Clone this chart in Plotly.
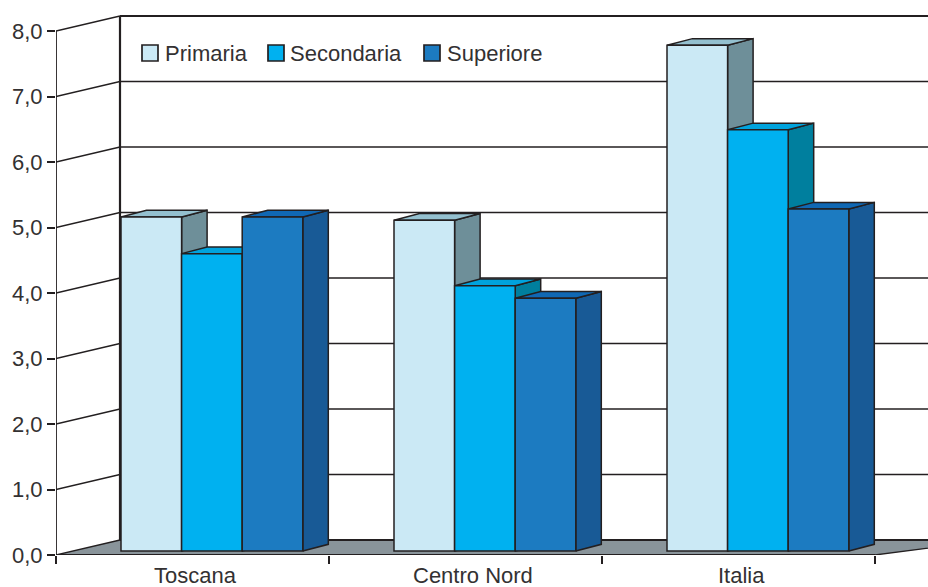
import plotly.graph_objects as go

# Chart data
categories = ["Toscana", "Centro Nord", "Italia"]
series_names = ["Primaria", "Secondaria", "Superiore"]
primaria = [5.1, 5.05, 7.72]
secondaria = [4.54, 4.05, 6.43]
superiore = [5.1, 3.86, 5.22]
y_ticks = [0, 1, 2, 3, 4, 5, 6, 7, 8]

# Face colours per series: front, top, side
front_colors = ["#cbe9f5", "#00b1f0", "#1c7bc1"]
top_colors = ["#94c0cf", "#00a3dd", "#1068b4"]
side_colors = ["#6e8f99", "#007f9e", "#185a96"]
INK = "#231f20"
TEXT = "#333132"
FLOOR = "#89949a"
FONT = "Liberation Sans"
FONT_SIZE = 22

# Pixel scale of the axes
W, H = 928, 587
LEFT, BOTTOM = 56, 32
PX_X = 273.0   # pixels per category
PX_Y = 65.5    # pixels per unit
ux = lambda px: px / PX_X
uy = lambda px: px / PX_Y

x_max = ux(W - LEFT)
y_max = uy(H - BOTTOM)

# Oblique projection of the wall and of the bars
wall_dx, wall_dy = ux(64), uy(15)
bar_dx, bar_dy = ux(25.5), uy(6.7)
bar_base = uy(4)
bar_start = ux(65)
bar_width = ux(60.6)

fig = go.Figure()


def add_line(xs, ys, width=1.5, color=INK):
    fig.add_trace(go.Scatter(x=xs, y=ys, mode="lines", showlegend=False, hoverinfo="skip", cliponaxis=False,
                             line=dict(color=color, width=width)))


def add_face(xs, ys, fill):
    fig.add_trace(go.Scatter(x=xs + xs[:1], y=ys + ys[:1], mode="lines", fill="toself", fillcolor=fill,
                             showlegend=False, hoverinfo="skip",
                             line=dict(color=INK, width=1.5)))


# Floor of the box
fig.add_trace(go.Scatter(x=[0, wall_dx, x_max + wall_dx, 3, 0], y=[0, wall_dy, wall_dy, 0, 0],
                         mode="lines", fill="toself", fillcolor=FLOOR, showlegend=False, hoverinfo="skip",
                         line=dict(color=INK, width=1.3)))

# Gridlines: one stroke on the side wall, one on the back wall
for v in y_ticks[1:]:
    width = 2.2 if v == y_ticks[-1] else 1.5
    add_line([0, wall_dx], [v, v + wall_dy], 1.3)
    add_line([wall_dx, x_max], [v + wall_dy, v + wall_dy], width)

add_line([wall_dx, x_max], [wall_dy, wall_dy], 2.2)
add_line([wall_dx, wall_dx], [wall_dy, y_ticks[-1] + wall_dy], 2.2)
add_line([0, 0], [0, y_ticks[-1]], 1.8)
add_line([0, 3], [0, 0], 1.8)

# Top and side faces sit on the base axes, the fronts on an overlay above them
all_series = [primaria, secondaria, superiore]
for s, values in enumerate(all_series):
    for c, value in enumerate(values):
        x0 = c + bar_start + s * bar_width
        x1 = x0 + bar_width
        top = bar_base + value
        add_face([x1, x1 + bar_dx, x1 + bar_dx, x1],
                 [bar_base, bar_base + bar_dy, top + bar_dy, top], side_colors[s])
        add_face([x0, x1, x1 + bar_dx, x0 + bar_dx],
                 [top, top, top + bar_dy, top + bar_dy], top_colors[s])

for s, (name, values) in enumerate(zip(series_names, all_series)):
    fig.add_trace(go.Bar(
        x=[c + bar_start + (s + 0.5) * bar_width for c in range(len(categories))],
        y=values, base=bar_base, width=bar_width, name=name,
        xaxis="x2", yaxis="y2", showlegend=False,
        marker=dict(color=front_colors[s], line=dict(color=INK, width=1.5)),
    ))

# Category names under the floor
label_shift = [3, 7, 3]
annotations = [
    dict(text=name, x=c + 0.5, xref="x", xshift=label_shift[c], y=0, yref="paper", yanchor="top",
         yshift=-6, showarrow=False, font=dict(family=FONT, size=FONT_SIZE, color=TEXT))
    for c, name in enumerate(categories)
]

# Legend row
shapes = []
swatch_left = [142, 268, 424]
label_left = [165, 290, 447]
legend_y = 53
for name, color, sx, lx in zip(series_names, front_colors, swatch_left, label_left):
    shapes.append(dict(type="rect", xref="paper", yref="paper",
                       x0=(sx - LEFT) / (W - LEFT), x1=(sx + 16 - LEFT) / (W - LEFT),
                       y0=(H - BOTTOM - legend_y - 8) / (H - BOTTOM), y1=(H - BOTTOM - legend_y + 8) / (H - BOTTOM),
                       fillcolor=color, line=dict(color=INK, width=1.7), layer="above"))
    annotations.append(dict(text=name, xref="paper", yref="paper", x=(lx - LEFT) / (W - LEFT),
                            y=(H - BOTTOM - legend_y) / (H - BOTTOM), xanchor="left", yanchor="middle",
                            xshift=-2, showarrow=False, font=dict(family=FONT, size=FONT_SIZE, color=TEXT)))

fig.update_layout(
    width=W, height=H, autosize=False,
    margin=dict(l=LEFT, r=0, t=0, b=BOTTOM, pad=0),
    paper_bgcolor="white", plot_bgcolor="white",
    separators=",.",
    barmode="overlay",
    showlegend=False,
    annotations=annotations,
    shapes=shapes,
    xaxis=dict(range=[0, x_max], tickvals=[0, 1, 2, 3], ticktext=["", "", "", ""], ticks="outside",
               ticklen=8, tickwidth=1.5, tickcolor=INK, showgrid=False, zeroline=False, showline=False),
    yaxis=dict(range=[0, y_max], tickvals=y_ticks, tickformat=".1f", ticks="outside", ticklen=8,
               tickwidth=1.5, tickcolor=INK, showgrid=False, zeroline=False, showline=False,
               tickfont=dict(family=FONT, size=FONT_SIZE, color=TEXT)),
    xaxis2=dict(range=[0, x_max], overlaying="x", visible=False),
    yaxis2=dict(range=[0, y_max], overlaying="y", visible=False),
)

fig.write_html("out.html", config=dict(displayModeBar=False))
